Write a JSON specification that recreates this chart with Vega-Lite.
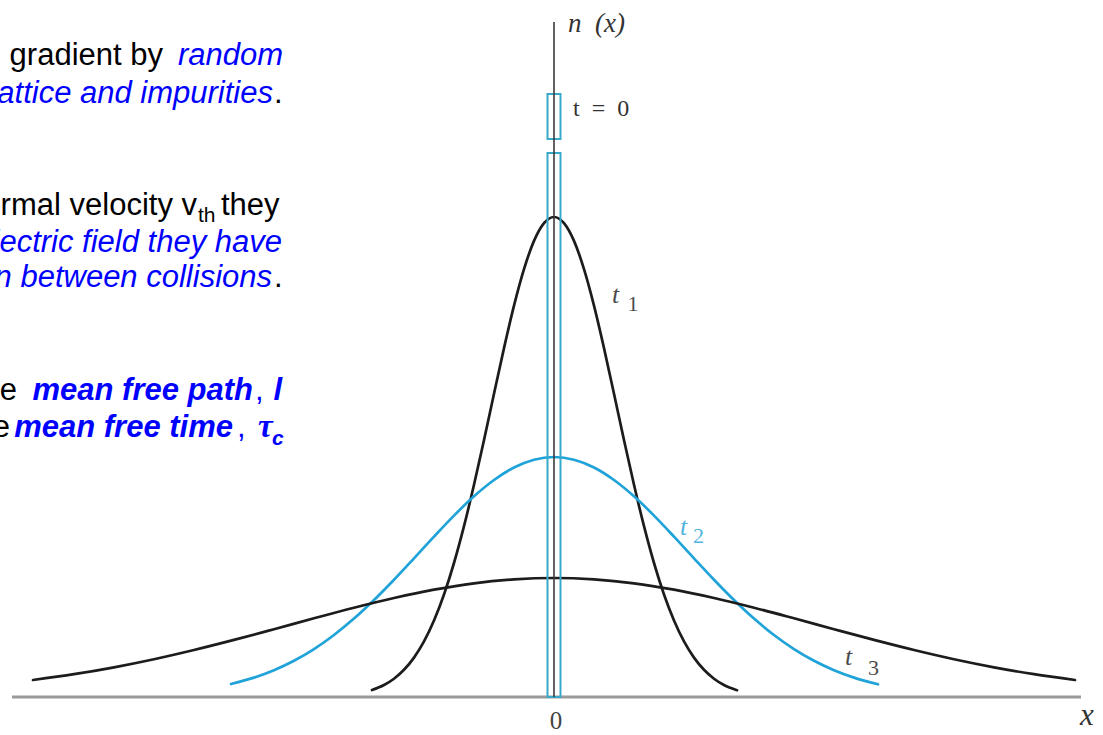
{
  "$schema": "https://vega.github.io/schema/vega-lite/v6.json",
  "width": 1103,
  "height": 735,
  "autosize": {"type": "none"},
  "padding": 0,
  "background": "white",
  "config": {"view": {"stroke": null}},
  "datasets": {
    "profiles": [
      {"c": "t1", "x": -1.82, "n": 0.070}, {"c": "t1", "x": -1.7, "n": 0.120}, {"c": "t1", "x": -1.6, "n": 0.183},
      {"c": "t1", "x": -1.5, "n": 0.272}, {"c": "t1", "x": -1.4, "n": 0.394}, {"c": "t1", "x": -1.3, "n": 0.556},
      {"c": "t1", "x": -1.2, "n": 0.765}, {"c": "t1", "x": -1.1, "n": 1.025}, {"c": "t1", "x": -1.0, "n": 1.340},
      {"c": "t1", "x": -0.9, "n": 1.708}, {"c": "t1", "x": -0.8, "n": 2.122}, {"c": "t1", "x": -0.7, "n": 2.569},
      {"c": "t1", "x": -0.6, "n": 3.032}, {"c": "t1", "x": -0.5, "n": 3.489}, {"c": "t1", "x": -0.4, "n": 3.914},
      {"c": "t1", "x": -0.3, "n": 4.279}, {"c": "t1", "x": -0.2, "n": 4.561}, {"c": "t1", "x": -0.1, "n": 4.739},
      {"c": "t1", "x": 0.0, "n": 4.800},
      {"c": "t1", "x": 0.1, "n": 4.739}, {"c": "t1", "x": 0.2, "n": 4.561}, {"c": "t1", "x": 0.3, "n": 4.279},
      {"c": "t1", "x": 0.4, "n": 3.914}, {"c": "t1", "x": 0.5, "n": 3.489}, {"c": "t1", "x": 0.6, "n": 3.032},
      {"c": "t1", "x": 0.7, "n": 2.569}, {"c": "t1", "x": 0.8, "n": 2.122}, {"c": "t1", "x": 0.9, "n": 1.708},
      {"c": "t1", "x": 1.0, "n": 1.340}, {"c": "t1", "x": 1.1, "n": 1.025}, {"c": "t1", "x": 1.2, "n": 0.765},
      {"c": "t1", "x": 1.3, "n": 0.556}, {"c": "t1", "x": 1.4, "n": 0.394}, {"c": "t1", "x": 1.5, "n": 0.272},
      {"c": "t1", "x": 1.6, "n": 0.183}, {"c": "t1", "x": 1.7, "n": 0.120}, {"c": "t1", "x": 1.83, "n": 0.068},

      {"c": "t2", "x": -3.23, "n": 0.130}, {"c": "t2", "x": -3.0, "n": 0.194}, {"c": "t2", "x": -2.8, "n": 0.268},
      {"c": "t2", "x": -2.6, "n": 0.362}, {"c": "t2", "x": -2.4, "n": 0.479}, {"c": "t2", "x": -2.2, "n": 0.620},
      {"c": "t2", "x": -2.0, "n": 0.784}, {"c": "t2", "x": -1.8, "n": 0.970}, {"c": "t2", "x": -1.6, "n": 1.173},
      {"c": "t2", "x": -1.4, "n": 1.387}, {"c": "t2", "x": -1.2, "n": 1.604}, {"c": "t2", "x": -1.0, "n": 1.814},
      {"c": "t2", "x": -0.8, "n": 2.007}, {"c": "t2", "x": -0.6, "n": 2.170}, {"c": "t2", "x": -0.4, "n": 2.295},
      {"c": "t2", "x": -0.2, "n": 2.373}, {"c": "t2", "x": 0.0, "n": 2.400},
      {"c": "t2", "x": 0.2, "n": 2.373}, {"c": "t2", "x": 0.4, "n": 2.295}, {"c": "t2", "x": 0.6, "n": 2.170},
      {"c": "t2", "x": 0.8, "n": 2.007}, {"c": "t2", "x": 1.0, "n": 1.814}, {"c": "t2", "x": 1.2, "n": 1.604},
      {"c": "t2", "x": 1.4, "n": 1.387}, {"c": "t2", "x": 1.6, "n": 1.173}, {"c": "t2", "x": 1.8, "n": 0.970},
      {"c": "t2", "x": 2.0, "n": 0.784}, {"c": "t2", "x": 2.2, "n": 0.620}, {"c": "t2", "x": 2.4, "n": 0.479},
      {"c": "t2", "x": 2.6, "n": 0.362}, {"c": "t2", "x": 2.8, "n": 0.268}, {"c": "t2", "x": 3.0, "n": 0.194},
      {"c": "t2", "x": 3.24, "n": 0.127},

      {"c": "t3", "x": -5.21, "n": 0.170}, {"c": "t3", "x": -4.8, "n": 0.228}, {"c": "t3", "x": -4.4, "n": 0.297},
      {"c": "t3", "x": -4.0, "n": 0.378}, {"c": "t3", "x": -3.6, "n": 0.470}, {"c": "t3", "x": -3.2, "n": 0.571},
      {"c": "t3", "x": -2.8, "n": 0.678}, {"c": "t3", "x": -2.4, "n": 0.787}, {"c": "t3", "x": -2.0, "n": 0.893},
      {"c": "t3", "x": -1.6, "n": 0.990}, {"c": "t3", "x": -1.2, "n": 1.073}, {"c": "t3", "x": -0.8, "n": 1.137},
      {"c": "t3", "x": -0.4, "n": 1.176}, {"c": "t3", "x": 0.0, "n": 1.190},
      {"c": "t3", "x": 0.4, "n": 1.176}, {"c": "t3", "x": 0.8, "n": 1.137}, {"c": "t3", "x": 1.2, "n": 1.073},
      {"c": "t3", "x": 1.6, "n": 0.990}, {"c": "t3", "x": 2.0, "n": 0.893}, {"c": "t3", "x": 2.4, "n": 0.787},
      {"c": "t3", "x": 2.8, "n": 0.678}, {"c": "t3", "x": 3.2, "n": 0.571}, {"c": "t3", "x": 3.6, "n": 0.470},
      {"c": "t3", "x": 4.0, "n": 0.378}, {"c": "t3", "x": 4.4, "n": 0.297}, {"c": "t3", "x": 4.8, "n": 0.228},
      {"c": "t3", "x": 5.21, "n": 0.170}
    ],
    "pulse": [
      {"part": "lower", "x0": -0.065, "x1": 0.065, "n0": 0, "n1": 5.44},
      {"part": "upper", "x0": -0.065, "x1": 0.065, "n0": 5.58, "n1": 6.03}
    ],
    "axes": [
      {"axis": "x", "x0": -5.42, "x1": 5.27, "n0": 0, "n1": 0},
      {"axis": "n", "x0": 0, "x1": 0, "n0": 0, "n1": 6.75}
    ],
    "figureText": [
      {"role": "nName", "text": "n\u2002(x)", "x": 0.14, "n": 6.65},
      {"role": "xName", "text": "x", "x": 5.26, "n": -0.28},
      {"role": "pulseName", "text": "t\u2002=\u20020", "x": 0.19, "n": 5.81},
      {"role": "origin", "text": "0", "x": 0.02, "n": -0.32}
    ],
    "curveLabels": [
      {"c": "t1", "t": "t", "k": "1", "x": 0.58, "n": 3.94, "xs": 0.735, "ns": 3.86},
      {"c": "t2", "t": "t", "k": "2", "x": 1.26, "n": 1.62, "xs": 1.39, "ns": 1.54},
      {"c": "t3", "t": "t", "k": "3", "x": 2.91, "n": 0.32, "xs": 3.14, "ns": 0.22}
    ],
    "notes": [
      {"role": "plain", "text": "concentration gradient by", "x": -3.91, "n": 6.32},
      {"role": "emph", "text": "random", "x": -2.71, "n": 6.32},
      {"role": "emph", "text": "scattering off the lattice and impurities", "x": -2.81, "n": 5.94},
      {"role": "tail", "text": ".", "x": -2.80, "n": 5.94},
      {"role": "plain", "text": "Carriers move with thermal velocity v", "x": -3.57, "n": 4.82},
      {"role": "sub", "text": "th", "x": -3.56, "n": 4.75},
      {"role": "tail", "text": "they", "x": -3.33, "n": 4.82},
      {"role": "emph", "text": "In the absence of an electric field they have", "x": -2.72, "n": 4.45},
      {"role": "emph", "text": "random motion between collisions", "x": -2.82, "n": 4.10},
      {"role": "tail", "text": ".", "x": -2.80, "n": 4.10},
      {"role": "plain", "text": "Average distance between collisions is the", "x": -5.37, "n": 2.97},
      {"role": "term", "text": "mean free path", "x": -3.01, "n": 2.97},
      {"role": "comma", "text": ",", "x": -2.99, "n": 2.97},
      {"role": "term", "text": "l", "x": -2.72, "n": 2.97},
      {"role": "plain", "text": "Average time between collisions is the", "x": -5.44, "n": 2.60},
      {"role": "term", "text": "mean free time", "x": -3.21, "n": 2.60},
      {"role": "comma", "text": ",", "x": -3.17, "n": 2.60},
      {"role": "symbol", "text": "τ", "x": -2.96, "n": 2.60},
      {"role": "symbolSub", "text": "c", "x": -2.82, "n": 2.52}
    ]
  },
  "layer": [
    {
      "data": {"name": "axes"},
      "transform": [{"filter": "datum.axis === 'x'"}],
      "mark": {"type": "rule", "stroke": "#9a9a9a", "strokeWidth": 3},
      "encoding": {
        "x": {"field": "x0", "type": "quantitative", "scale": {"domain": [-5.54, 5.49], "nice": false, "zero": false}, "axis": null},
        "x2": {"field": "x1"},
        "y": {"field": "n0", "type": "quantitative", "scale": {"domain": [-0.38, 6.97], "nice": false, "zero": false}, "axis": null},
        "y2": {"field": "n1"}
      }
    },
    {
      "data": {"name": "profiles"},
      "mark": {"type": "line", "interpolate": "monotone", "strokeWidth": 2.7, "strokeCap": "round"},
      "encoding": {
        "x": {"field": "x", "type": "quantitative"},
        "y": {"field": "n", "type": "quantitative"},
        "color": {"field": "c", "type": "nominal", "scale": {"domain": ["t1", "t2", "t3"], "range": ["#1c1c1c", "#1fa3d8", "#1c1c1c"]}, "legend": null}
      }
    },
    {
      "data": {"name": "pulse"},
      "mark": {"type": "rect", "fill": null, "fillOpacity": 0, "stroke": "#3aa9c9", "strokeWidth": 2},
      "encoding": {
        "x": {"field": "x0", "type": "quantitative"},
        "x2": {"field": "x1"},
        "y": {"field": "n0", "type": "quantitative"},
        "y2": {"field": "n1"}
      }
    },
    {
      "data": {"name": "axes"},
      "transform": [{"filter": "datum.axis === 'n'"}],
      "mark": {"type": "rule", "stroke": "#3a3a3a", "strokeWidth": 1.6},
      "encoding": {
        "x": {"field": "x0", "type": "quantitative"},
        "x2": {"field": "x1"},
        "y": {"field": "n0", "type": "quantitative"},
        "y2": {"field": "n1"}
      }
    },
    {
      "data": {"name": "figureText"},
      "transform": [{"filter": "datum.role === 'nName'"}],
      "mark": {"type": "text", "font": "Liberation Serif", "fontStyle": "italic", "fontSize": 27, "align": "left", "baseline": "alphabetic", "color": "#333333"},
      "encoding": {
        "x": {"field": "x", "type": "quantitative"},
        "y": {"field": "n", "type": "quantitative"},
        "text": {"field": "text"}
      }
    },
    {
      "data": {"name": "figureText"},
      "transform": [{"filter": "datum.role === 'xName'"}],
      "mark": {"type": "text", "font": "Liberation Serif", "fontStyle": "italic", "fontSize": 31, "align": "left", "baseline": "alphabetic", "color": "#333333"},
      "encoding": {
        "x": {"field": "x", "type": "quantitative"},
        "y": {"field": "n", "type": "quantitative"},
        "text": {"field": "text"}
      }
    },
    {
      "data": {"name": "figureText"},
      "transform": [{"filter": "datum.role === 'pulseName'"}],
      "mark": {"type": "text", "font": "Liberation Serif", "fontSize": 24, "align": "left", "baseline": "alphabetic", "color": "#333333"},
      "encoding": {
        "x": {"field": "x", "type": "quantitative"},
        "y": {"field": "n", "type": "quantitative"},
        "text": {"field": "text"}
      }
    },
    {
      "data": {"name": "figureText"},
      "transform": [{"filter": "datum.role === 'origin'"}],
      "mark": {"type": "text", "font": "Liberation Serif", "fontSize": 25, "align": "center", "baseline": "alphabetic", "color": "#444444"},
      "encoding": {
        "x": {"field": "x", "type": "quantitative"},
        "y": {"field": "n", "type": "quantitative"},
        "text": {"field": "text"}
      }
    },
    {
      "data": {"name": "curveLabels"},
      "mark": {"type": "text", "font": "Liberation Serif", "fontStyle": "italic", "fontSize": 26, "align": "left", "baseline": "alphabetic"},
      "encoding": {
        "x": {"field": "x", "type": "quantitative"},
        "y": {"field": "n", "type": "quantitative"},
        "text": {"field": "t"},
        "color": {"field": "c", "type": "nominal", "scale": {"domain": ["t1", "t2", "t3"], "range": ["#1c1c1c", "#1fa3d8", "#1c1c1c"]}, "legend": null},
        "opacity": {"value": 0.8}
      }
    },
    {
      "data": {"name": "curveLabels"},
      "mark": {"type": "text", "font": "Liberation Serif", "fontSize": 22, "align": "left", "baseline": "alphabetic"},
      "encoding": {
        "x": {"field": "xs", "type": "quantitative"},
        "y": {"field": "ns", "type": "quantitative"},
        "text": {"field": "k"},
        "color": {"field": "c", "type": "nominal", "scale": {"domain": ["t1", "t2", "t3"], "range": ["#1c1c1c", "#1fa3d8", "#1c1c1c"]}, "legend": null},
        "opacity": {"value": 0.8}
      }
    },
    {
      "data": {"name": "notes"},
      "transform": [{"filter": "datum.role === 'plain'"}],
      "mark": {"type": "text", "font": "Liberation Sans", "fontSize": 31, "align": "right", "baseline": "alphabetic", "color": "#000000"},
      "encoding": {"x": {"field": "x", "type": "quantitative"}, "y": {"field": "n", "type": "quantitative"}, "text": {"field": "text"}}
    },
    {
      "data": {"name": "notes"},
      "transform": [{"filter": "datum.role === 'tail'"}],
      "mark": {"type": "text", "font": "Liberation Sans", "fontSize": 31, "align": "left", "baseline": "alphabetic", "color": "#000000"},
      "encoding": {"x": {"field": "x", "type": "quantitative"}, "y": {"field": "n", "type": "quantitative"}, "text": {"field": "text"}}
    },
    {
      "data": {"name": "notes"},
      "transform": [{"filter": "datum.role === 'sub'"}],
      "mark": {"type": "text", "font": "Liberation Sans", "fontSize": 21, "align": "left", "baseline": "alphabetic", "color": "#000000"},
      "encoding": {"x": {"field": "x", "type": "quantitative"}, "y": {"field": "n", "type": "quantitative"}, "text": {"field": "text"}}
    },
    {
      "data": {"name": "notes"},
      "transform": [{"filter": "datum.role === 'emph'"}],
      "mark": {"type": "text", "font": "Liberation Sans", "fontStyle": "italic", "fontSize": 31, "align": "right", "baseline": "alphabetic", "color": "#0000ff"},
      "encoding": {"x": {"field": "x", "type": "quantitative"}, "y": {"field": "n", "type": "quantitative"}, "text": {"field": "text"}}
    },
    {
      "data": {"name": "notes"},
      "transform": [{"filter": "datum.role === 'term'"}],
      "mark": {"type": "text", "font": "Liberation Sans", "fontStyle": "italic", "fontWeight": "bold", "fontSize": 31, "align": "right", "baseline": "alphabetic", "color": "#0000ff"},
      "encoding": {"x": {"field": "x", "type": "quantitative"}, "y": {"field": "n", "type": "quantitative"}, "text": {"field": "text"}}
    },
    {
      "data": {"name": "notes"},
      "transform": [{"filter": "datum.role === 'comma'"}],
      "mark": {"type": "text", "font": "Liberation Sans", "fontSize": 31, "align": "left", "baseline": "alphabetic", "color": "#0000ff"},
      "encoding": {"x": {"field": "x", "type": "quantitative"}, "y": {"field": "n", "type": "quantitative"}, "text": {"field": "text"}}
    },
    {
      "data": {"name": "notes"},
      "transform": [{"filter": "datum.role === 'symbol'"}],
      "mark": {"type": "text", "font": "Liberation Serif", "fontStyle": "italic", "fontWeight": "bold", "fontSize": 33, "align": "left", "baseline": "alphabetic", "color": "#0000ff"},
      "encoding": {"x": {"field": "x", "type": "quantitative"}, "y": {"field": "n", "type": "quantitative"}, "text": {"field": "text"}}
    },
    {
      "data": {"name": "notes"},
      "transform": [{"filter": "datum.role === 'symbolSub'"}],
      "mark": {"type": "text", "font": "Liberation Sans", "fontStyle": "italic", "fontWeight": "bold", "fontSize": 21, "align": "left", "baseline": "alphabetic", "color": "#0000ff"},
      "encoding": {"x": {"field": "x", "type": "quantitative"}, "y": {"field": "n", "type": "quantitative"}, "text": {"field": "text"}}
    }
  ]
}
